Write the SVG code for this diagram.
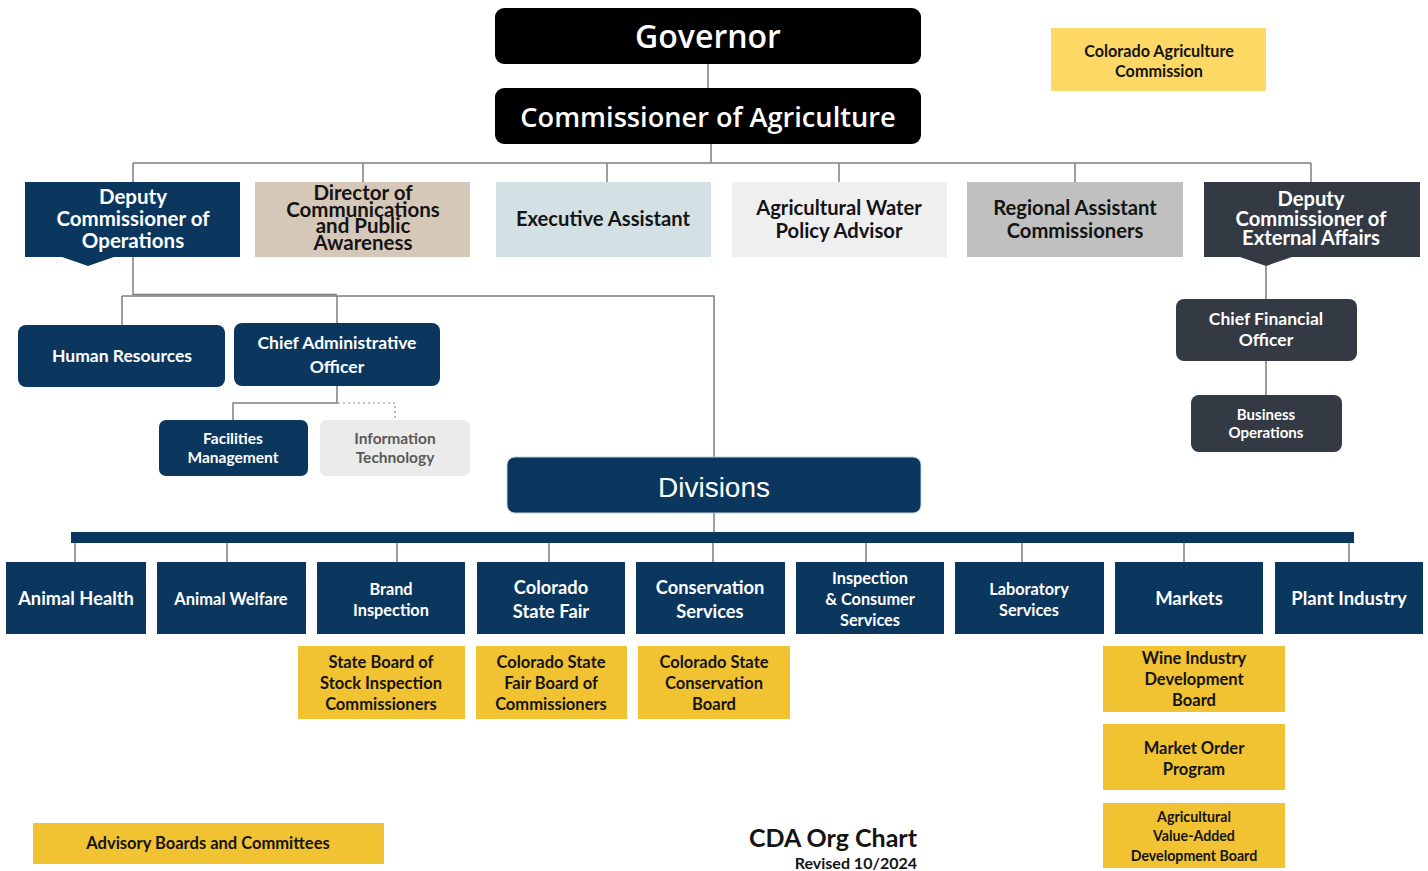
<svg xmlns="http://www.w3.org/2000/svg" width="1428" height="871" viewBox="0 0 1428 871">
  <style>
    .navy { fill: #0b375f; }
    .slate { fill: #333a44; }
    .gold { fill: #f1c232; }
    .head { fill: #000; }
    .lbl { font-family: Lato, "Open Sans", "Liberation Sans", sans-serif; font-weight: 700; text-anchor: middle; }
    .w { fill: #fff; }
    .d { fill: #141414; }
    .big { font-family: "Open Sans", "Liberation Sans", sans-serif; font-weight: 600; fill: #fff; text-anchor: middle; }
    .ln { stroke: #7f7f7f; stroke-width: 1.5; fill: none; }
    .dot { stroke: #8a8a8a; stroke-width: 1.2; fill: none; stroke-dasharray: 2 3; }
  </style>

  <rect width="1428" height="871" fill="#ffffff"/>

  <!-- connectors -->
  <g id="connectors">
    <path class="ln" d="M708 64 V88"/>
    <path class="ln" d="M711 144 V163 M133 163 H1311 M133 163 V182 M363 163 V182 M607 163 V182 M839 163 V182 M1075 163 V182 M1311 163 V182"/>
    <path class="ln" d="M133 257 V295 M122 296 H714 V457 M122 296 V325 M337 296 V323"/>
    <path class="ln" stroke-width="2" d="M133 294.5 H337"/>
    <path class="ln" d="M337 386 V403 H233 V420"/>
    <path class="dot" d="M338 403 H395 V420"/>
    <path class="ln" d="M1266 266 V299 M1266 361 V395"/>
    <path class="ln" d="M714 513 V532"/>
    <path class="ln" d="M75 543 V562 M227 543 V562 M397 543 V562 M549 543 V562 M713 543 V562 M866 543 V562 M1022 543 V562 M1184 543 V562 M1349 543 V562"/>
  </g>

  <!-- leadership -->
  <g id="governor">
    <rect class="head" x="495" y="8" width="426" height="56" rx="9"/>
    <text class="big" x="708" y="48" font-size="32">Governor</text>
  </g>
  <g id="commissioner">
    <rect class="head" x="495" y="88" width="426" height="56" rx="9"/>
    <text class="big" x="708" y="127" font-size="27.2">Commissioner of Agriculture</text>
  </g>
  <g id="ag-commission">
    <rect fill="#fdd865" x="1051" y="28" width="215" height="63"/>
    <text class="lbl d" x="1159" y="57" font-size="16.2">Colorado Agriculture</text>
    <text class="lbl d" x="1159" y="77" font-size="16.2">Commission</text>
  </g>

  <!-- direct reports -->
  <g id="deputy-operations">
    <path class="navy" d="M25 182 H240 V257 H114 L88 266 L62 257 H25 Z"/>
    <text class="lbl w" x="133" y="204" font-size="20.5">Deputy</text>
    <text class="lbl w" x="133" y="226" font-size="20.5">Commissioner of</text>
    <text class="lbl w" x="133" y="248" font-size="20.5">Operations</text>
  </g>
  <g id="communications">
    <rect fill="#d5c8b8" x="255" y="182" width="215" height="75"/>
    <text class="lbl d" x="363" y="200" font-size="20.5"><tspan x="363">Director of</tspan><tspan x="363" dy="16.5">Communications</tspan><tspan x="363" dy="16.5">and Public</tspan><tspan x="363" dy="16.5">Awareness</tspan></text>
  </g>
  <g id="executive-assistant">
    <rect fill="#d3e0e4" x="496" y="182" width="215" height="75"/>
    <text class="lbl d" x="603" y="226" font-size="20.2">Executive Assistant</text>
  </g>
  <g id="water-advisor">
    <rect fill="#efefef" x="732" y="182" width="215" height="75"/>
    <text class="lbl d" x="839" y="215" font-size="20.2">Agricultural Water</text>
    <text class="lbl d" x="839" y="238" font-size="20.2">Policy Advisor</text>
  </g>
  <g id="regional-assistants">
    <rect fill="#c0c0c0" x="967" y="182" width="216" height="75"/>
    <text class="lbl d" x="1075" y="215" font-size="20.2">Regional Assistant</text>
    <text class="lbl d" x="1075" y="238" font-size="20.2">Commissioners</text>
  </g>
  <g id="deputy-external">
    <path class="slate" d="M1204 182 H1420 V257 H1292 L1266 266 L1240 257 H1204 Z"/>
    <text class="lbl w" x="1311" y="206" font-size="20.2">Deputy</text>
    <text class="lbl w" x="1311" y="226" font-size="20.2">Commissioner of</text>
    <text class="lbl w" x="1311" y="245" font-size="20.2">External Affairs</text>
  </g>

  <!-- operations staff -->
  <g id="human-resources">
    <rect class="navy" x="18" y="325" width="207" height="62" rx="8"/>
    <text class="lbl w" x="122" y="362" font-size="17.5">Human Resources</text>
  </g>
  <g id="chief-admin">
    <rect class="navy" x="234" y="323" width="206" height="63" rx="8"/>
    <text class="lbl w" x="337" y="349" font-size="17.5">Chief Administrative</text>
    <text class="lbl w" x="337" y="373" font-size="17.5">Officer</text>
  </g>
  <g id="facilities">
    <rect class="navy" x="159" y="420" width="149" height="56" rx="7"/>
    <text class="lbl w" x="233" y="444" font-size="15.5">Facilities</text>
    <text class="lbl w" x="233" y="463" font-size="15.5">Management</text>
  </g>
  <g id="information-technology">
    <rect fill="#ebebeb" x="320" y="420" width="150" height="56" rx="7"/>
    <text class="lbl" fill="#5a5a5a" font-weight="400" x="395" y="444" font-size="15.5">Information</text>
    <text class="lbl" fill="#5a5a5a" font-weight="400" x="395" y="463" font-size="15.5">Technology</text>
  </g>

  <!-- external affairs staff -->
  <g id="chief-financial">
    <rect class="slate" x="1176" y="299" width="181" height="62" rx="8"/>
    <text class="lbl w" x="1266" y="325" font-size="17.5">Chief Financial</text>
    <text class="lbl w" x="1266" y="346" font-size="17.5">Officer</text>
  </g>
  <g id="business-operations">
    <rect class="slate" x="1191" y="395" width="151" height="57" rx="8"/>
    <text class="lbl w" x="1266" y="420" font-size="15">Business</text>
    <text class="lbl w" x="1266" y="438" font-size="15">Operations</text>
  </g>

  <!-- divisions -->
  <g id="divisions">
    <rect class="navy" x="507" y="457" width="414" height="56" rx="8" stroke="#c4ccd4" stroke-width="1"/>
    <text x="714" y="497" font-family="'Liberation Sans', Arial, sans-serif" font-size="28" fill="#fff" text-anchor="middle">Divisions</text>
  </g>
  <rect id="division-bar" class="navy" x="71" y="532" width="1283" height="11"/>

  <g id="animal-health">
    <rect class="navy" x="6" y="562" width="140" height="72"/>
    <text class="lbl w" x="76" y="605" font-size="18.3">Animal Health</text>
  </g>
  <g id="animal-welfare">
    <rect class="navy" x="157" y="562" width="149" height="72"/>
    <text class="lbl w" x="231" y="605" font-size="16.5">Animal Welfare</text>
  </g>
  <g id="brand-inspection">
    <rect class="navy" x="317" y="562" width="148" height="72"/>
    <text class="lbl w" x="391" y="595" font-size="16.3">Brand</text>
    <text class="lbl w" x="391" y="616" font-size="16.3">Inspection</text>
  </g>
  <g id="state-fair">
    <rect class="navy" x="477" y="562" width="148" height="72"/>
    <text class="lbl w" x="551" y="594" font-size="18.3">Colorado</text>
    <text class="lbl w" x="551" y="618" font-size="18.3">State Fair</text>
  </g>
  <g id="conservation">
    <rect class="navy" x="636" y="562" width="149" height="72"/>
    <text class="lbl w" x="710" y="594" font-size="18.3">Conservation</text>
    <text class="lbl w" x="710" y="618" font-size="18.3">Services</text>
  </g>
  <g id="inspection-consumer">
    <rect class="navy" x="796" y="562" width="148" height="72"/>
    <text class="lbl w" x="870" y="584" font-size="16.3">Inspection</text>
    <text class="lbl w" x="870" y="605" font-size="16.3">&amp; Consumer</text>
    <text class="lbl w" x="870" y="626" font-size="16.3">Services</text>
  </g>
  <g id="laboratory">
    <rect class="navy" x="955" y="562" width="149" height="72"/>
    <text class="lbl w" x="1029" y="595" font-size="16.3">Laboratory</text>
    <text class="lbl w" x="1029" y="616" font-size="16.3">Services</text>
  </g>
  <g id="markets">
    <rect class="navy" x="1115" y="562" width="148" height="72"/>
    <text class="lbl w" x="1189" y="605" font-size="18.5">Markets</text>
  </g>
  <g id="plant-industry">
    <rect class="navy" x="1275" y="562" width="148" height="72"/>
    <text class="lbl w" x="1349" y="605" font-size="18.5">Plant Industry</text>
  </g>

  <!-- boards and committees -->
  <g id="stock-inspection-board">
    <rect class="gold" x="298" y="646" width="167" height="73"/>
    <text class="lbl d" x="381" y="668" font-size="16.5">State Board of</text>
    <text class="lbl d" x="381" y="689" font-size="16.5">Stock Inspection</text>
    <text class="lbl d" x="381" y="710" font-size="16.5">Commissioners</text>
  </g>
  <g id="state-fair-board">
    <rect class="gold" x="476" y="646" width="151" height="73"/>
    <text class="lbl d" x="551" y="668" font-size="16.5">Colorado State</text>
    <text class="lbl d" x="551" y="689" font-size="16.5">Fair Board of</text>
    <text class="lbl d" x="551" y="710" font-size="16.5">Commissioners</text>
  </g>
  <g id="conservation-board">
    <rect class="gold" x="638" y="646" width="152" height="73"/>
    <text class="lbl d" x="714" y="668" font-size="16.5">Colorado State</text>
    <text class="lbl d" x="714" y="689" font-size="16.5">Conservation</text>
    <text class="lbl d" x="714" y="710" font-size="16.5">Board</text>
  </g>
  <g id="wine-board">
    <rect class="gold" x="1103" y="646" width="182" height="66"/>
    <text class="lbl d" x="1194" y="664" font-size="16.5">Wine Industry</text>
    <text class="lbl d" x="1194" y="685" font-size="16.5">Development</text>
    <text class="lbl d" x="1194" y="706" font-size="16.5">Board</text>
  </g>
  <g id="market-order">
    <rect class="gold" x="1103" y="724" width="182" height="66"/>
    <text class="lbl d" x="1194" y="754" font-size="16.5">Market Order</text>
    <text class="lbl d" x="1194" y="775" font-size="16.5">Program</text>
  </g>
  <g id="value-added-board">
    <rect class="gold" x="1103" y="803" width="182" height="65"/>
    <text class="lbl d" x="1194" y="822" font-size="14.2">Agricultural</text>
    <text class="lbl d" x="1194" y="841" font-size="14.2">Value-Added</text>
    <text class="lbl d" x="1194" y="861" font-size="14.2">Development Board</text>
  </g>
  <g id="advisory-legend">
    <rect class="gold" x="33" y="823" width="351" height="41"/>
    <text class="lbl d" x="208" y="849" font-size="16.5">Advisory Boards and Committees</text>
  </g>

  <!-- title -->
  <g id="title">
    <text class="lbl d" x="917" y="847" font-size="25" style="text-anchor:end">CDA Org Chart</text>
    <text class="lbl d" x="917" y="869" font-size="16" style="text-anchor:end">Revised 10/2024</text>
  </g>
</svg>
